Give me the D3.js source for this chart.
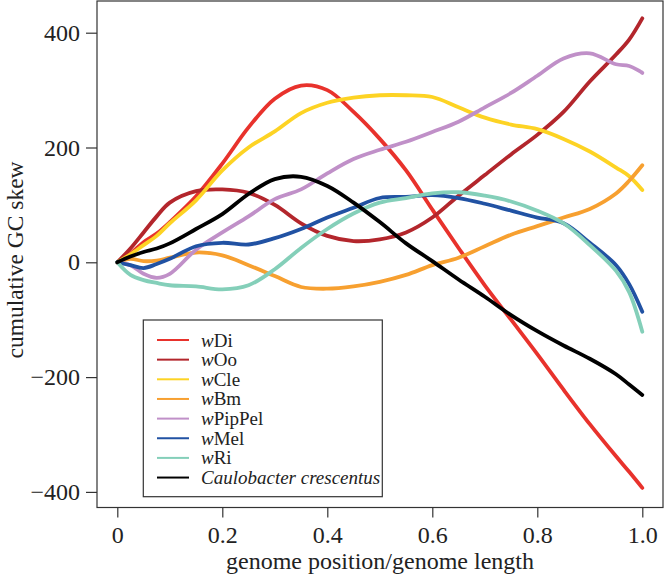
<!DOCTYPE html>
<html>
<head>
<meta charset="utf-8">
<script src="https://cdn.jsdelivr.net/npm/d3@7"></script>
<style>
  html, body { margin: 0; padding: 0; background: #fff; }
  svg { display: block; }
  text { font-family: "Liberation Serif", "Times New Roman", serif; fill: #222; }
</style>
</head>
<body>
<svg id="chart" width="664" height="575"></svg>
<script>
// ---- data ----
const positions = [0, 0.025, 0.05, 0.075, 0.1, 0.15, 0.2, 0.25, 0.3, 0.35, 0.4, 0.45, 0.5,
                   0.55, 0.6, 0.65, 0.7, 0.75, 0.8, 0.85, 0.9, 0.95, 0.975, 1.0];

const wDi       = [0, 15, 35, 50, 70, 115, 172, 235, 285, 308, 300, 262, 215, 160, 92, 25, -40, -100, -160, -222, -282, -338, -365, -393];
const wOo       = [0, 24, 52, 80, 104, 124, 127, 121, 100, 68, 46, 37, 40, 52, 78, 116, 152, 188, 222, 262, 315, 362, 388, 425];
const wCle      = [0, 14, 30, 46, 68, 108, 160, 200, 228, 260, 278, 287, 291, 291, 288, 270, 252, 240, 232, 215, 193, 165, 150, 126];
const wBm       = [0, 6, 2, 3, 8, 17, 12, -5, -24, -43, -46, -42, -34, -22, -5, 8, 28, 48, 63, 78, 93, 120, 142, 169];
const wPipPel   = [0, -5, -20, -27, -20, 22, 52, 80, 110, 127, 155, 180, 196, 210, 227, 245, 270, 295, 325, 355, 364, 345, 342, 330];
const wMel      = [0, -5, -10, -3, 6, 28, 34, 31, 42, 58, 78, 95, 112, 114, 117, 112, 102, 90, 78, 68, 34, -5, -38, -86];
const wRi       = [0, -22, -31, -36, -40, -42, -47, -40, -12, 25, 58, 85, 104, 112, 120, 122, 116, 106, 90, 68, 30, -15, -52, -121];
const caulo     = [0, 10, 18, 24, 33, 58, 84, 119, 145, 149, 133, 104, 70, 33, 2, -30, -60, -92, -120, -145, -168, -195, -213, -231];

const seriesNames  = ["wDi", "wOo", "wCle", "wBm", "wPipPel", "wMel", "wRi", "Caulobacter crescentus"];
const seriesValues = [wDi, wOo, wCle, wBm, wPipPel, wMel, wRi, caulo];
const seriesColors = ["#e8322c", "#b3262c", "#fdd324", "#f7a030", "#c090c8", "#2152a3", "#84cfb9", "#000000"];

const xTicks = [0, 0.2, 0.4, 0.6, 0.8, 1.0];
const xTickLabels = ["0", "0.2", "0.4", "0.6", "0.8", "1.0"];
const yTicks = [-400, -200, 0, 200, 400];
const yTickLabels = ["\u2212400", "\u2212200", "0", "200", "400"];

// ---- layout ----
const svg = d3.select("#chart");
const box = { left: 97, right: 663, top: 1, bottom: 507.5 };

const x = d3.scaleLinear().domain([0, 1]).range([117.3, 642.3]);
const y = d3.scaleLinear().domain([-400, 400]).range([491.9, 32.7]);

// lines
const line = d3.line()
  .x((d, i) => x(positions[i]))
  .y(d => y(d))
  .curve(d3.curveCatmullRom.alpha(0.5));

const gLines = svg.append("g");
seriesValues.forEach((vals, k) => {
  gLines.append("path")
    .datum(vals)
    .attr("d", line)
    .attr("fill", "none")
    .attr("stroke", seriesColors[k])
    .attr("stroke-width", 3.8)
    .attr("stroke-linecap", "round")
    .attr("stroke-linejoin", "round");
});

// frame
svg.append("rect")
  .attr("x", box.left).attr("y", box.top)
  .attr("width", box.right - box.left).attr("height", box.bottom - box.top)
  .attr("fill", "none").attr("stroke", "#333").attr("stroke-width", 1.2);

// x axis
const xAxis = d3.axisBottom(x).tickValues(xTicks)
  .tickFormat((d, i) => xTickLabels[i]).tickSize(10).tickPadding(8);
const gx = svg.append("g").attr("transform", `translate(0,${box.bottom})`).call(xAxis);
gx.attr("font-family", null);
gx.select(".domain").remove();
gx.selectAll("line").attr("stroke", "#333").attr("stroke-width", 1.2);
gx.selectAll("text").attr("font-size", 24).attr("fill", "#222");

// y axis
const yAxis = d3.axisLeft(y).tickValues(yTicks)
  .tickFormat((d, i) => yTickLabels[i]).tickSize(11).tickPadding(6);
const gy = svg.append("g").attr("transform", `translate(${box.left},0)`).call(yAxis);
gy.attr("font-family", null);
gy.select(".domain").remove();
gy.selectAll("line").attr("stroke", "#333").attr("stroke-width", 1.2);
gy.selectAll("text").attr("font-size", 24).attr("fill", "#222");

// axis titles
svg.append("text")
  .attr("x", (box.left + box.right) / 2).attr("y", 569)
  .attr("text-anchor", "middle").attr("font-size", 24)
  .text("genome position/genome length");

svg.append("text")
  .attr("transform", "translate(23,260) rotate(-90)")
  .attr("text-anchor", "middle").attr("font-size", 23.5)
  .text("cumulative GC skew");

// legend
const leg = svg.append("g");
leg.append("rect")
  .attr("x", 143.3).attr("y", 320).attr("width", 239).attr("height", 176.7)
  .attr("fill", "#fff").attr("stroke", "#333").attr("stroke-width", 1.2);

seriesNames.forEach((name, i) => {
  const cy = 340 + i * 19.65;
  leg.append("line")
    .attr("x1", 157).attr("x2", 189).attr("y1", cy).attr("y2", cy)
    .attr("stroke", seriesColors[i]).attr("stroke-width", 2);
  const t = leg.append("text").attr("x", 201).attr("y", cy + 6.5).attr("font-size", 19);
  if (name.startsWith("w")) {
    t.append("tspan").attr("font-style", "italic").text("w");
    t.append("tspan").text(name.slice(1));
  } else {
    t.append("tspan").attr("font-style", "italic").text(name);
  }
});
</script>
</body>
</html>
